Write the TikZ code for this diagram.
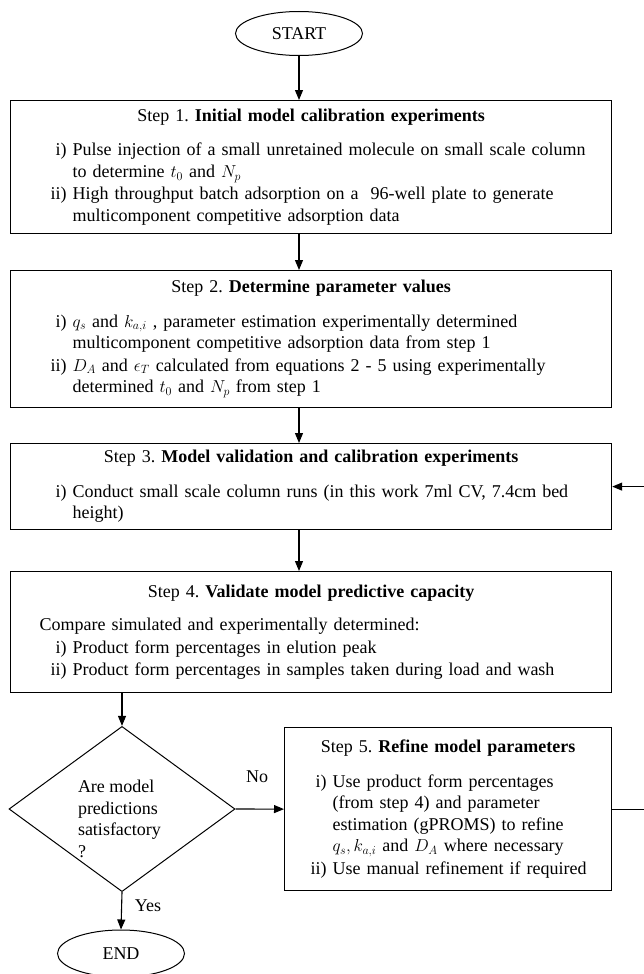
\documentclass[tikz,border=0pt]{standalone}
\usepackage{fontspec}
\setmainfont{Liberation Serif}
\usetikzlibrary{shapes.geometric,arrows.meta}
\frenchspacing

\newcommand{\stepitem}[3][56.5pt]{\par\vspace{1pt}\hangindent=#1\hangafter=1\noindent\makebox[#1][r]{#2\ }#3}
\newcommand{\steptitle}[2]{{\centering Step #1. \textbf{#2}\par}\vspace{12pt}}

\begin{document}
\begin{tikzpicture}[x=1pt,y=-1pt,
  every node/.style={font=\fontsize{18}{21.5}\selectfont},
  terminal/.style={draw,ellipse,line width=1pt,minimum width=127pt,minimum height=44pt,inner sep=0pt},
  stepbox/.style={draw,rectangle,line width=1.2pt,anchor=north west,minimum width=601pt,text width=590pt,inner xsep=5.5pt,inner ysep=0pt},
  decision/.style={draw,diamond,line width=1pt,minimum width=226pt,minimum height=162pt,inner sep=0pt,align=left},
  flowarrow/.style={line width=1.1pt,-{Triangle[length=10pt,width=8pt]}}]
\useasboundingbox (0,0) rectangle (644,974);
\node[terminal] (start) at (299,33.5) {START};
\node[stepbox,minimum height=133pt] (step1) at (10,100) {\raggedright
\steptitle{1}{Initial model calibration experiments}
\stepitem{i)}{Pulse injection of a small unretained molecule on small scale column\newline to determine $t_0$ and $N_p$}
\stepitem{ii)}{High throughput batch adsorption on a\ \ 96-well plate to generate\newline multicomponent competitive adsorption data}\par};
\node[stepbox,minimum height=137pt] (step2) at (10,270) {\raggedright
\steptitle{2}{Determine parameter values}
\stepitem{i)}{$q_s$ and $k_{a,i}$ , parameter estimation experimentally determined\newline multicomponent competitive adsorption data from step 1}
\stepitem{ii)}{$D_A$ and $\epsilon_T$ calculated from equations 2 - 5 using experimentally\newline determined $t_0$ and $N_p$ from step 1}\par};
\node[stepbox,minimum height=86pt] (step3) at (10,443) {\raggedright
\steptitle{3}{Model validation and calibration experiments}
\stepitem{i)}{Conduct small scale column runs (in this work 7ml CV, 7.4cm bed\newline height)}\par};
\node[stepbox,minimum height=121pt] (step4) at (10,571) {\raggedright
\steptitle{4}{Validate model predictive capacity}
\par\noindent\hspace*{23.5pt}Compare simulated and experimentally determined:
\stepitem{i)}{Product form percentages in elution peak}
\stepitem{ii)}{Product form percentages in samples taken during load and wash}\par};
\node[decision] (check) at (122,809) {\raisebox{-10pt}[\height][\depth]{\parbox{88pt}{Are model\\predictions\\satisfactory\\?}}};
\node[stepbox,minimum width=327pt,text width=316pt,minimum height=163pt] (step5) at (284,727) {\raggedright
\steptitle{5}{Refine model parameters}
\stepitem[42.5pt]{i)}{Use product form percentages\newline (from step 4) and parameter\newline estimation (gPROMS) to refine\newline $q_s, k_{a,i}$ and $D_A$ where necessary}
\stepitem[42.5pt]{ii)}{Use manual refinement if required}\par};
\node[terminal,minimum height=47pt] (finish) at (121,953.5) {END};
\node (no) at (257,777) {No};
\node (yes) at (148,906) {Yes};
\draw[flowarrow] (start.south) -- (start.south |- step1.north);
\draw[flowarrow] (step1.south -| start) -- (step2.north -| start);
\draw[flowarrow] (step2.south -| start) -- (step3.north -| start);
\draw[flowarrow] (step3.south -| start) -- (step4.north -| start);
\draw[flowarrow] (step4.south -| check) -- (check.north);
\draw[flowarrow] (check.east) -- (step5.west);
\draw[flowarrow] (check.south) -- (finish.north);
\draw[flowarrow] (step5.east) -- ++(36,0) |- (step3.east);
\end{tikzpicture}
\end{document}
